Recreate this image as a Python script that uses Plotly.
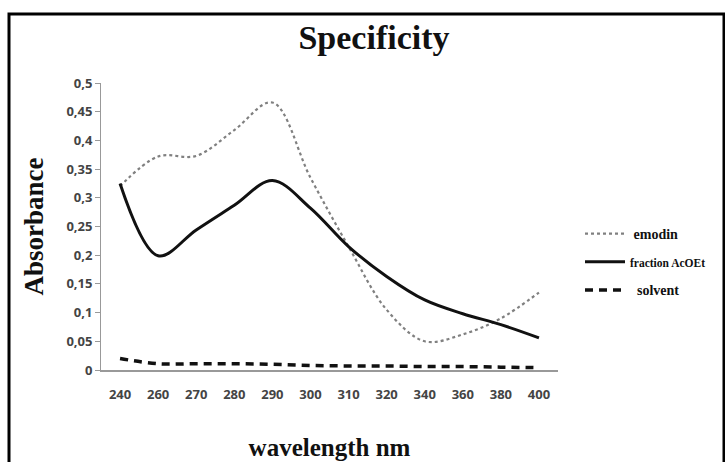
import plotly.graph_objects as go

wavelengths = ["240", "260", "270", "280", "290", "300", "310", "320", "340", "360", "380", "400"]
emodin = [0.32, 0.372, 0.373, 0.418, 0.466, 0.335, 0.215, 0.105, 0.05, 0.062, 0.09, 0.135]
fraction_acoet = [0.325, 0.199, 0.244, 0.287, 0.330, 0.282, 0.215, 0.163, 0.122, 0.098, 0.079, 0.056]
solvent = [0.020, 0.011, 0.011, 0.011, 0.010, 0.008, 0.007, 0.007, 0.006, 0.006, 0.005, 0.004]

serif = "Liberation Serif, Times New Roman, serif"

fig = go.Figure()
fig.add_trace(go.Scatter(x=wavelengths, y=emodin, mode="lines", name="<b> emodin</b>", legendgroup="a",
                         line=dict(color="#808080", width=2.2, dash="dot", shape="spline", smoothing=1.0)))
fig.add_trace(go.Scatter(x=wavelengths, y=fraction_acoet, mode="lines", legendgroup="b",
                         name="<b><span style='font-size:11.5px'>fraction AcOEt</span></b>",
                         line=dict(color="#111111", width=3, shape="spline", smoothing=1.0)))
fig.add_trace(go.Scatter(x=wavelengths, y=solvent, mode="lines", name="<b>  solvent</b>", legendgroup="c",
                         line=dict(color="#111111", width=3.5, dash="8px,6px", shape="spline")))

L, R, T, B = 101, 167, 83, 92
W, H = 725, 462
pw, ph = W - L - R, H - T - B

tickfont = dict(family="Open Sans, sans-serif", size=13, color="#444", weight="bold")

fig.update_layout(
    width=W, height=H,
    margin=dict(l=L, r=R, t=T, b=B, autoexpand=False),
    paper_bgcolor="white", plot_bgcolor="white",
    separators=", ",
    title=dict(text="<b>Specificity</b>", x=(374 - L) / pw, xref="paper", xanchor="center",
               y=1 - 37 / H, yanchor="middle",
               font=dict(family=serif, size=34, color="#111")),
    xaxis=dict(type="category", range=[-0.5, 11.5], showline=True, linecolor="#999", linewidth=1.5,
               showgrid=False, ticks="outside", ticklen=12, tickcolor="rgba(0,0,0,0)",
               zeroline=False, tickfont=tickfont, automargin=False,
               title=dict(text="<b>wavelength nm</b>", standoff=36,
                          font=dict(family=serif, size=25, color="#111"))),
    yaxis=dict(range=[0, 0.5], dtick=0.05, showline=True, linecolor="#999", linewidth=1,
               showgrid=False, zeroline=False, ticks="outside", ticklen=5, tickcolor="#999",
               tickfont=tickfont, automargin=False,
               title=dict(text="<b>Absorbance</b>", standoff=14,
                          font=dict(family=serif, size=27, color="#111"))),
    legend=dict(x=(580 - L) / pw, y=(370 - 218) / ph, xanchor="left", yanchor="top",
                font=dict(family=serif, size=14, color="#111"),
                bgcolor="rgba(0,0,0,0)", tracegroupgap=7, itemwidth=40),
    showlegend=True,
)

fig.add_shape(type="rect", xref="paper", yref="paper",
              x0=(9 - L) / pw, x1=(724 - L) / pw,
              y0=(370 - 475) / ph, y1=(370 - 14) / ph,
              line=dict(color="black", width=3), fillcolor="rgba(0,0,0,0)", layer="above")

fig.write_html("out.html")
